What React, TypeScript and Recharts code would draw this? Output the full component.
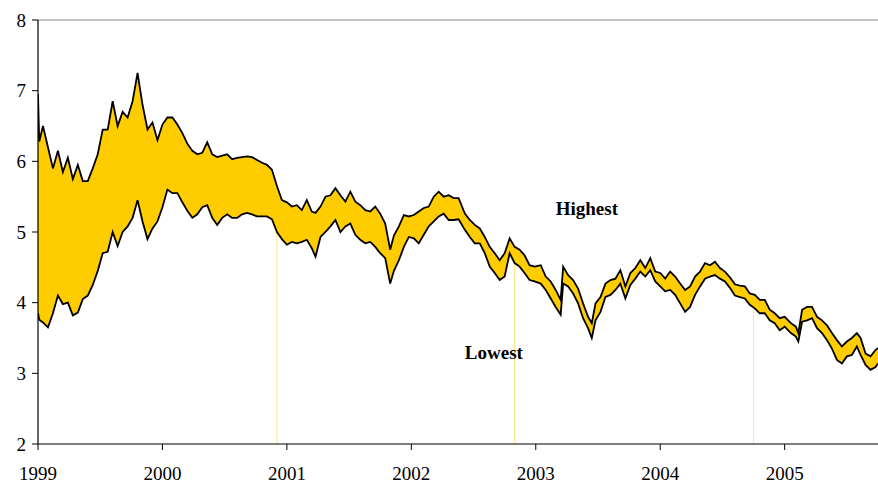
import React from "react";
import {
  ComposedChart,
  Area,
  Line,
  XAxis,
  YAxis,
  ReferenceLine,
  ReferenceDot,
} from "recharts";

const years = [
  1999.0, 1999.01, 1999.04, 1999.08, 1999.12, 1999.16, 1999.2, 1999.24, 1999.28, 1999.32, 1999.36,
  1999.4, 1999.44, 1999.48, 1999.52, 1999.56, 1999.6, 1999.64, 1999.68, 1999.72, 1999.76,
  1999.8, 1999.84, 1999.88, 1999.92, 1999.96, 2000.0, 2000.04, 2000.08, 2000.12, 2000.16,
  2000.2, 2000.24, 2000.28, 2000.32, 2000.36, 2000.4, 2000.44, 2000.48, 2000.52, 2000.56,
  2000.6, 2000.64, 2000.68, 2000.72, 2000.76, 2000.8, 2000.84, 2000.88, 2000.92, 2000.96,
  2001.0, 2001.04, 2001.08, 2001.12, 2001.16, 2001.2, 2001.23, 2001.27, 2001.31, 2001.35,
  2001.39, 2001.43, 2001.47, 2001.51, 2001.55, 2001.59, 2001.63, 2001.67, 2001.71, 2001.75,
  2001.79, 2001.83, 2001.86, 2001.9, 2001.94, 2001.98, 2002.02, 2002.06, 2002.1, 2002.14,
  2002.18, 2002.22, 2002.26, 2002.3, 2002.34, 2002.38, 2002.43, 2002.47, 2002.51, 2002.55,
  2002.59, 2002.63, 2002.67, 2002.71, 2002.75, 2002.79, 2002.83, 2002.87, 2002.91, 2002.95,
  2002.99, 2003.04, 2003.08, 2003.12, 2003.16, 2003.2, 2003.22, 2003.26, 2003.3, 2003.34,
  2003.38, 2003.42, 2003.45, 2003.48, 2003.52, 2003.56, 2003.6, 2003.64, 2003.68, 2003.72,
  2003.76, 2003.8, 2003.84, 2003.88, 2003.92, 2003.96, 2004.0, 2004.04, 2004.08, 2004.12,
  2004.16, 2004.2, 2004.24, 2004.28, 2004.32, 2004.36, 2004.4, 2004.44, 2004.48, 2004.52,
  2004.56, 2004.6, 2004.64, 2004.68, 2004.72, 2004.76, 2004.8, 2004.84, 2004.88, 2004.92,
  2004.96, 2005.0, 2005.05, 2005.09, 2005.11, 2005.14, 2005.18, 2005.22, 2005.26, 2005.3,
  2005.34, 2005.38, 2005.42, 2005.46, 2005.5, 2005.54, 2005.58, 2005.61, 2005.65, 2005.69,
  2005.73, 2005.75,
];

const highest = [
  6.95, 6.28, 6.5, 6.2, 5.9, 6.15, 5.85, 6.05, 5.75, 5.95, 5.72,
  5.72, 5.9, 6.1, 6.45, 6.45, 6.85, 6.5, 6.7, 6.62, 6.85,
  7.25, 6.8, 6.45, 6.55, 6.3, 6.52, 6.62, 6.62, 6.52, 6.4,
  6.25, 6.15, 6.1, 6.12, 6.27, 6.1, 6.06, 6.08, 6.1, 6.03,
  6.05, 6.06, 6.07, 6.06, 6.02, 5.98, 5.95, 5.88, 5.65, 5.45,
  5.42, 5.36, 5.38, 5.31, 5.45, 5.29, 5.27, 5.36, 5.5, 5.52,
  5.62, 5.52, 5.43, 5.57, 5.43, 5.38, 5.31, 5.29, 5.36, 5.26,
  5.12, 4.75, 4.95, 5.08, 5.24, 5.22, 5.24, 5.29, 5.34, 5.36,
  5.5, 5.57, 5.5, 5.52, 5.48, 5.48, 5.26, 5.17, 5.1, 5.05,
  4.93, 4.79, 4.7, 4.6, 4.7, 4.91, 4.79, 4.75, 4.67, 4.53,
  4.51, 4.53, 4.37, 4.3, 4.18, 4.04, 4.51, 4.39, 4.32, 4.2,
  3.99, 3.8, 3.71, 3.99, 4.08, 4.27, 4.32, 4.34, 4.46, 4.23,
  4.42, 4.49, 4.6, 4.49, 4.63, 4.44, 4.42, 4.34, 4.44, 4.37,
  4.27, 4.18, 4.23, 4.37, 4.44, 4.56, 4.53, 4.58, 4.49, 4.44,
  4.36, 4.26, 4.24, 4.23, 4.13, 4.11, 4.04, 4.04, 3.9, 3.85,
  3.78, 3.8, 3.71, 3.66, 3.57, 3.9, 3.94, 3.94, 3.8, 3.75,
  3.68, 3.57, 3.47, 3.38, 3.45, 3.5, 3.57, 3.5, 3.28, 3.24,
  3.33, 3.36,
];

const lowest = [
  3.85, 3.76, 3.72, 3.65, 3.85, 4.1, 3.98, 4.0, 3.82, 3.86, 4.05,
  4.1, 4.25, 4.45, 4.7, 4.72, 5.0, 4.8, 5.0, 5.08, 5.2,
  5.45, 5.15, 4.9, 5.05, 5.15, 5.35, 5.6, 5.55, 5.55, 5.42,
  5.3, 5.2, 5.25, 5.35, 5.38, 5.2, 5.1, 5.2, 5.25, 5.2,
  5.2, 5.25, 5.27, 5.25, 5.22, 5.22, 5.22, 5.18, 5.0, 4.9,
  4.82, 4.86, 4.84, 4.86, 4.89, 4.77, 4.65, 4.93, 5.0, 5.08,
  5.17, 5.0, 5.08, 5.12, 4.96, 4.89, 4.84, 4.86, 4.79, 4.7,
  4.63, 4.27, 4.45, 4.6, 4.79, 4.93, 4.91, 4.84, 4.96, 5.08,
  5.15, 5.22, 5.26, 5.17, 5.17, 5.18, 5.03, 4.93, 4.84, 4.84,
  4.7, 4.51, 4.42, 4.32, 4.37, 4.7, 4.56, 4.51, 4.42, 4.32,
  4.3, 4.27, 4.18, 4.06, 3.94, 3.83, 4.27, 4.23, 4.13, 3.99,
  3.78, 3.64, 3.5, 3.75, 3.87, 4.08, 4.11, 4.18, 4.27, 4.06,
  4.25, 4.34, 4.44, 4.37, 4.46, 4.3, 4.23, 4.16, 4.18, 4.11,
  3.99, 3.87, 3.94, 4.11, 4.23, 4.34, 4.37, 4.39, 4.34, 4.3,
  4.21, 4.1, 4.08, 4.06, 3.97, 3.92, 3.85, 3.85, 3.75, 3.71,
  3.61, 3.66, 3.57, 3.52, 3.45, 3.73, 3.75, 3.78, 3.64, 3.57,
  3.47, 3.35, 3.19, 3.14, 3.24, 3.26, 3.38, 3.26, 3.12, 3.05,
  3.09, 3.14,
];

const xTicks = [1999, 2000, 2001, 2002, 2003, 2004, 2005];
const yTicks = [2, 3, 4, 5, 6, 7, 8];

// thin yellow verticals
const markerYears = [2000.92, 2002.83, 2004.75];
const markerTops = [5.0, 4.56, 3.93];

// text labels
const labelNames = ["Highest", "Lowest"];
const labelX = [2003.12, 2002.39];
const labelY = [5.34, 3.3];

const FONT = "'Liberation Serif', 'Times New Roman', serif";

const rows = years.map((x, i) => ({
  x,
  high: highest[i],
  low: lowest[i],
  band: [lowest[i], highest[i]],
}));

export default function App() {
  return (
    <div style={{ position: "absolute", left: 0, top: 0, background: "#fff" }}>
      <ComposedChart
        width={878}
        height={483}
        data={rows}
        margin={{ top: 20, right: 0, bottom: 0, left: 0 }}
      >
        <XAxis
          dataKey="x"
          type="number"
          domain={[1999, 2005.75]}
          ticks={xTicks}
          allowDataOverflow
          height={39}
          tickSize={6}
          tickMargin={17}
          axisLine={{ stroke: "#000", strokeWidth: 1.2 }}
          tickLine={{ stroke: "#000" }}
          tick={{ fill: "#000", fontSize: 19, fontFamily: FONT }}
        />
        <YAxis
          type="number"
          domain={[2, 8]}
          ticks={yTicks}
          width={38}
          tickSize={6}
          tickMargin={6}
          axisLine={{ stroke: "#000", strokeWidth: 1.2 }}
          tickLine={{ stroke: "#000" }}
          tick={{ fill: "#000", fontSize: 19, fontFamily: FONT }}
        />
        <ReferenceLine y={8} stroke="#888" strokeWidth={1} />
        {markerYears.map((m, i) => (
          <ReferenceLine
            key={m}
            segment={[
              { x: m, y: 2 },
              { x: m, y: markerTops[i] },
            ]}
            stroke="#FFE680"
            strokeWidth={1}
          />
        ))}
        <Area
          dataKey="band"
          type="linear"
          fill="#FFCC00"
          fillOpacity={1}
          stroke="none"
          isAnimationActive={false}
        />
        <Line
          dataKey="high"
          type="linear"
          stroke="#000"
          strokeWidth={1.8}
          dot={false}
          isAnimationActive={false}
        />
        <Line
          dataKey="low"
          type="linear"
          stroke="#000"
          strokeWidth={1.8}
          dot={false}
          isAnimationActive={false}
        />
        {labelNames.map((name, i) => (
          <ReferenceDot
            key={name}
            x={labelX[i]}
            y={labelY[i]}
            r={0}
            fill="none"
            stroke="none"
            label={{
              value: name,
              position: "right",
              fill: "#000",
              fontSize: 19,
              fontWeight: "bold",
              fontFamily: FONT,
            }}
          />
        ))}
      </ComposedChart>
    </div>
  );
}
